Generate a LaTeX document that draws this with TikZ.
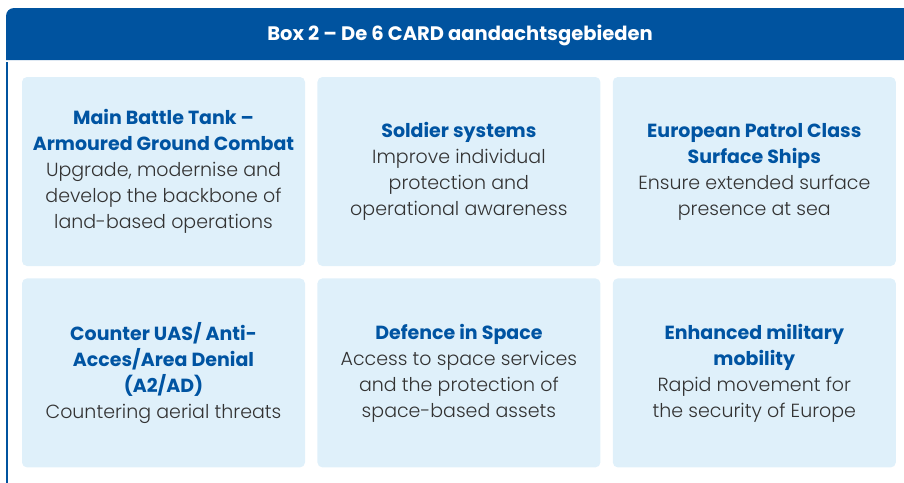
\documentclass[tikz,border=0pt]{standalone}
\usepackage{fontspec}
\setmainfont{Poppins}[UprightFont={* Light}, BoldFont={* Bold}]
\usepackage{tikz}
\usetikzlibrary{positioning}
\definecolor{boxblue}{HTML}{00539F}
\definecolor{cardfill}{HTML}{DFF0FA}
\definecolor{headtext}{HTML}{0054A2}
\definecolor{bodytext}{HTML}{333333}
\newcommand{\cardhead}[1]{{\bfseries\color{headtext}#1}}

\begin{document}
\begin{tikzpicture}[x=1pt, y=-1pt]
% STYLES
\tikzset{%
    card/.style={%
rectangle,
rounded corners=5pt,
fill=cardfill,
inner sep=4pt,
minimum width=283pt,
minimum height=189pt,
align=center,
text=bodytext,
font=\fontsize{19}{26}\selectfont
                 },
    boxtitle/.style={%
text=white,
font=\bfseries\fontsize{19.5}{22}\selectfont
                 }
             }
\useasboundingbox (0,0) rectangle (904,482);

% Draw frame and title
\fill[boxblue] (6,60) [rounded corners=8pt] -- (6,8) -- (912,8) [sharp corners] -- (912,60) -- cycle;
\draw[boxblue, line width=2.5pt] (7.2,62) -- (7.2,490);
\node[boxtitle] (title) at (460,35.5) {Box 2 – De 6 CARD aandachtsgebieden};

% Draw cards
\node [card] (tank) at (163.5,171.5) {\cardhead{Main Battle Tank –}\\\cardhead{Armoured Ground Combat}\\Upgrade, modernise and\\develop the backbone of\\land-based operations};
\node [card, right=12pt of tank] (soldier) {\cardhead{Soldier systems}\\Improve individual\\protection and\\operational awareness};
\node [card, right=12pt of soldier] (patrol) {\cardhead{European Patrol Class}\\\cardhead{Surface Ships}\\Ensure extended surface\\presence at sea};
\node [card, below=12pt of tank] (uas) {\cardhead{Counter UAS/ Anti-}\\\cardhead{Acces/Area Denial}\\\cardhead{(A2/AD)}\\Countering aerial threats};
\node [card, right=12pt of uas] (space) {\cardhead{Defence in Space}\\Access to space services\\and the protection of\\space-based assets};
\node [card, right=12pt of space] (mobility) {\cardhead{Enhanced military}\\\cardhead{mobility}\\Rapid movement for\\the security of Europe};
\end{tikzpicture}
\end{document}
